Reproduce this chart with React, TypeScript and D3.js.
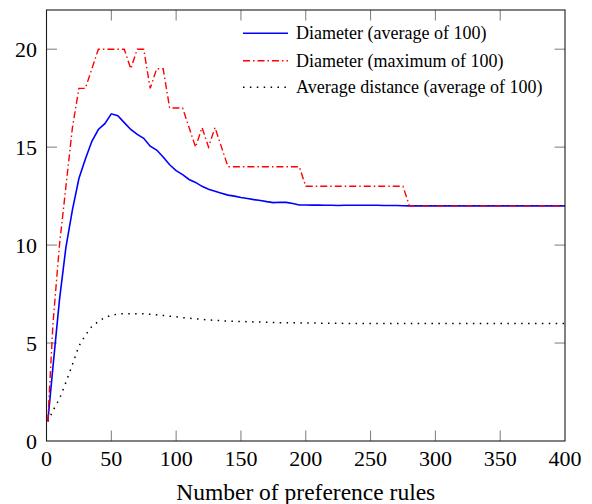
import React, { useRef, useEffect } from "react";
import * as d3 from "d3";

// number of preference rules (x samples)
const rules: number[] = [
  1, 5, 10, 15, 20, 25, 30, 35, 40, 45,
  50, 55, 60, 65, 70, 75, 80, 85, 90, 95,
  100, 105, 110, 115, 120, 125, 130, 135, 140, 145,
  150, 155, 160, 165, 170, 175, 180, 185, 190, 195,
  200, 205, 210, 215, 220, 225, 230, 235, 240, 245,
  250, 255, 260, 265, 270, 275, 280, 285, 290, 295,
  300, 305, 310, 315, 320, 325, 330, 335, 340, 345,
  350, 355, 360, 365, 370, 375, 380, 385, 390, 395,
  400,
];

const diameterAvg: number[] = [
  1.0, 3.8, 7.2, 9.9, 11.8, 13.4, 14.4, 15.3, 15.9, 16.2,
  16.7, 16.6, 16.25, 15.9, 15.65, 15.45, 15.05, 14.85, 14.5, 14.1,
  13.8, 13.6, 13.35, 13.2, 13.0, 12.85, 12.75, 12.65, 12.55, 12.5,
  12.43, 12.38, 12.32, 12.28, 12.22, 12.17, 12.19, 12.18, 12.12, 12.05,
  12.05, 12.04, 12.04, 12.03, 12.03, 12.02, 12.03, 12.03, 12.03, 12.03,
  12.03, 12.03, 12.02, 12.02, 12.02, 12.01, 12.0, 12.0, 12.0, 12.0,
  12, 12, 12, 12, 12, 12, 12, 12, 12, 12,
  12, 12, 12, 12, 12, 12, 12, 12, 12, 12,
  12,
];

const diameterMax: number[] = [
  1, 6, 10, 13, 16, 18, 18, 19, 20, 20,
  20, 20, 20, 19, 20, 20, 18, 19, 19, 17,
  17, 17, 16, 15, 16, 15, 16, 15, 14, 14,
  14, 14, 14, 14, 14, 14, 14, 14, 14, 14,
  13, 13, 13, 13, 13, 13, 13, 13, 13, 13,
  13, 13, 13, 13, 13, 13, 12, 12, 12, 12,
  12, 12, 12, 12, 12, 12, 12, 12, 12, 12,
  12, 12, 12, 12, 12, 12, 12, 12, 12, 12,
  12,
];

const avgDistance: number[] = [
  1.0, 1.55, 2.15, 3.0, 3.9, 4.85, 5.4, 5.85, 6.1, 6.3,
  6.42, 6.48, 6.5, 6.5, 6.5, 6.49, 6.47, 6.44, 6.41, 6.37,
  6.34, 6.3, 6.27, 6.24, 6.21, 6.18, 6.16, 6.14, 6.12, 6.11,
  6.1, 6.09, 6.08, 6.07, 6.06, 6.05, 6.04, 6.04, 6.03, 6.03,
  6.02, 6.02, 6.02, 6.01, 6.01, 6.01, 6.0, 6.0, 6.0, 6.0,
  6, 6, 6, 6, 6, 6, 6, 6, 6, 6,
  6, 6, 6, 6, 6, 6, 6, 6, 6, 6,
  6, 6, 6, 6, 6, 6, 6, 6, 6, 6,
  6,
];

const xTicks: number[] = [0, 50, 100, 150, 200, 250, 300, 350, 400];
const yTicks: number[] = [0, 5, 10, 15, 20];

const legendLabels: string[] = [
  "Diameter (average of 100)",
  "Diameter (maximum of 100)",
  "Average distance (average of 100)",
];

const App = () => {
  const canvas = useRef<SVGSVGElement>(null);

  const W = 592;
  const H = 504;
  const margin = { top: 10, left: 46.5, right: 27, bottom: 63 };
  const font = "Liberation Serif";

  useEffect(() => {
    const svg = d3.select(canvas.current);
    svg.selectAll("*").remove();

    const xScale = d3.scaleLinear().domain([0, 400]).range([margin.left, W - margin.right]);
    const yScale = d3.scaleLinear().domain([0, 22]).range([H - margin.bottom, margin.top]);
    const [x0, x1] = xScale.range();
    const [y0, y1] = yScale.range();
    const tickLen = 10.5;

    // inward ticks, all four sides
    const ticks = svg.append("g").attr("stroke", "#7a7a7a").attr("stroke-width", 1);
    xTicks.slice(1, -1).forEach((t) => {
      ticks.append("line").attr("x1", xScale(t)).attr("x2", xScale(t)).attr("y1", y0).attr("y2", y0 - tickLen);
      ticks.append("line").attr("x1", xScale(t)).attr("x2", xScale(t)).attr("y1", y1).attr("y2", y1 + tickLen);
    });
    yTicks.slice(1).forEach((t) => {
      ticks.append("line").attr("x1", x0).attr("x2", x0 + tickLen).attr("y1", yScale(t)).attr("y2", yScale(t));
      ticks.append("line").attr("x1", x1).attr("x2", x1 - tickLen).attr("y1", yScale(t)).attr("y2", yScale(t));
    });

    // series
    const pts = (vals: number[]) => rules.map((r, i) => [r, vals[i]] as [number, number]);
    const line = d3
      .line<[number, number]>()
      .x((d) => xScale(d[0]))
      .y((d) => yScale(d[1]));

    const series = [
      { vals: avgDistance, color: "#000000", width: 1.5, dash: "1.5,5.4" },
      { vals: diameterAvg, color: "#0000ff", width: 1.6, dash: "" },
      { vals: diameterMax, color: "#ff0000", width: 1.4, dash: "7,3,1.5,3" },
    ];
    series.forEach((s) => {
      svg
        .append("path")
        .attr("d", line(pts(s.vals)))
        .attr("fill", "none")
        .attr("stroke", s.color)
        .attr("stroke-width", s.width)
        .attr("stroke-dasharray", s.dash || null)
        .attr("stroke-linejoin", "miter");
    });

    // frame
    svg
      .append("rect")
      .attr("x", x0)
      .attr("y", y1)
      .attr("width", x1 - x0)
      .attr("height", y0 - y1)
      .attr("fill", "none")
      .attr("stroke", "#1a1a1a")
      .attr("stroke-width", 1.1);

    // tick labels
    svg
      .append("g")
      .selectAll("text")
      .data(xTicks)
      .enter()
      .append("text")
      .attr("x", (d) => xScale(d))
      .attr("y", 466)
      .attr("text-anchor", "middle")
      .attr("font-family", font)
      .attr("font-size", 22)
      .text((d) => String(d));

    svg
      .append("g")
      .selectAll("text")
      .data(yTicks)
      .enter()
      .append("text")
      .attr("x", 37)
      .attr("y", (d) => yScale(d) + 8)
      .attr("text-anchor", "end")
      .attr("font-family", font)
      .attr("font-size", 22)
      .text((d) => String(d));

    svg
      .append("text")
      .attr("x", (x0 + x1) / 2)
      .attr("y", 500)
      .attr("text-anchor", "middle")
      .attr("font-family", font)
      .attr("font-size", 23.5)
      .text("Number of preference rules");

    // legend
    const legendRows = [33.3, 60.7, 87.3];
    const legendStyle = [series[1], series[2], series[0]];
    legendLabels.forEach((lab, i) => {
      const s = legendStyle[i];
      svg
        .append("line")
        .attr("x1", 243)
        .attr("x2", 288)
        .attr("y1", legendRows[i])
        .attr("y2", legendRows[i])
        .attr("stroke", s.color)
        .attr("stroke-width", s.width)
        .attr("stroke-dasharray", s.dash || null);
      svg
        .append("text")
        .attr("x", 296)
        .attr("y", legendRows[i] + 6)
        .attr("font-family", font)
        .attr("font-size", 18)
        .text(lab);
    });
  });

  return (
    <svg
      ref={canvas}
      width={W}
      height={H}
      fontFamily={font}
      style={{ position: "absolute", left: 0, top: 0, background: "#fff" }}
    />
  );
};

export default App;
